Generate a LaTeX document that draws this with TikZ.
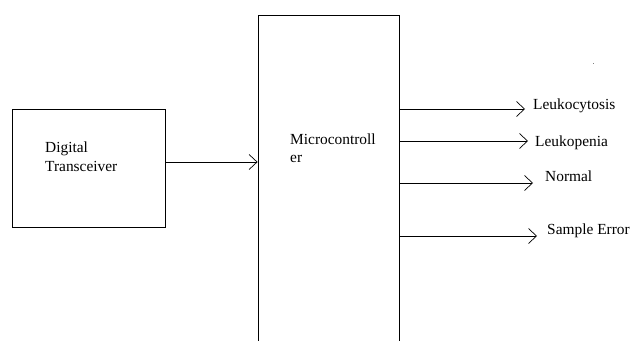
\documentclass[tikz,border=0pt]{standalone}
\usepackage{fontspec}
\setmainfont{Liberation Serif}
\newfontfamily\tnr{Liberation Serif}
\usetikzlibrary{arrows.meta}
\begin{document}
\begin{tikzpicture}[x=1pt,y=-1pt,
  box/.style={draw=black, line width=0.8pt, rectangle, inner sep=0pt},
  lbl/.style={inner sep=0pt, font=\tnr\fontsize{15.4}{18}\selectfont, text=black},
  arr/.style={draw=black, line width=0.7pt, -{Straight Barb[length=8pt,width=15pt,line width=0.7pt]}}]
\useasboundingbox (0,0) rectangle (631,340);
\clip (0,0) rectangle (631,340);
\fill[white] (0,0) rectangle (631,340);
% boxes
\node[box, minimum width=153pt, minimum height=118pt] (dt) at (88.5,168) {};
\node[box, minimum width=141pt, minimum height=345pt] (mc) at (328.5,187.5) {};
% box labels
\node[lbl, anchor=base west] (dtl1) at (45,152.7) {Digital};
\node[lbl, anchor=base west] (dtl2) at (45,171.7) {Transceiver};
\node[lbl, anchor=base west] (mcl1) at (290,144) {Microcontroll};
\node[lbl, anchor=base west] (mcl2) at (290,162) {er};
% input arrow
\draw[arr] (dt.east |- 0,162) -- (mc.west |- 0,162);
% outputs
\coordinate (e1) at (525,109);
\coordinate (e2) at (528,141);
\coordinate (e3) at (533,183);
\coordinate (e4) at (537,236);
\draw[arr] (mc.east |- e1) -- (e1);
\draw[arr] (mc.east |- e2) -- (e2);
\draw[arr] (mc.east |- e3) -- (e3);
\draw[arr] (mc.east |- e4) -- (e4);
\node[lbl, anchor=base west] (o1) at (533,109.3) {Leukocytosis};
\node[lbl, anchor=base west] (o2) at (535,146) {Leukopenia};
\node[lbl, anchor=base west] (o3) at (545,181.5) {Normal};
\node[lbl, anchor=base west] (o4) at (547,234) {Sample Error};
% tiny mark
\fill[gray] (592.5,62.5) rectangle (594,64);
\end{tikzpicture}
\end{document}
